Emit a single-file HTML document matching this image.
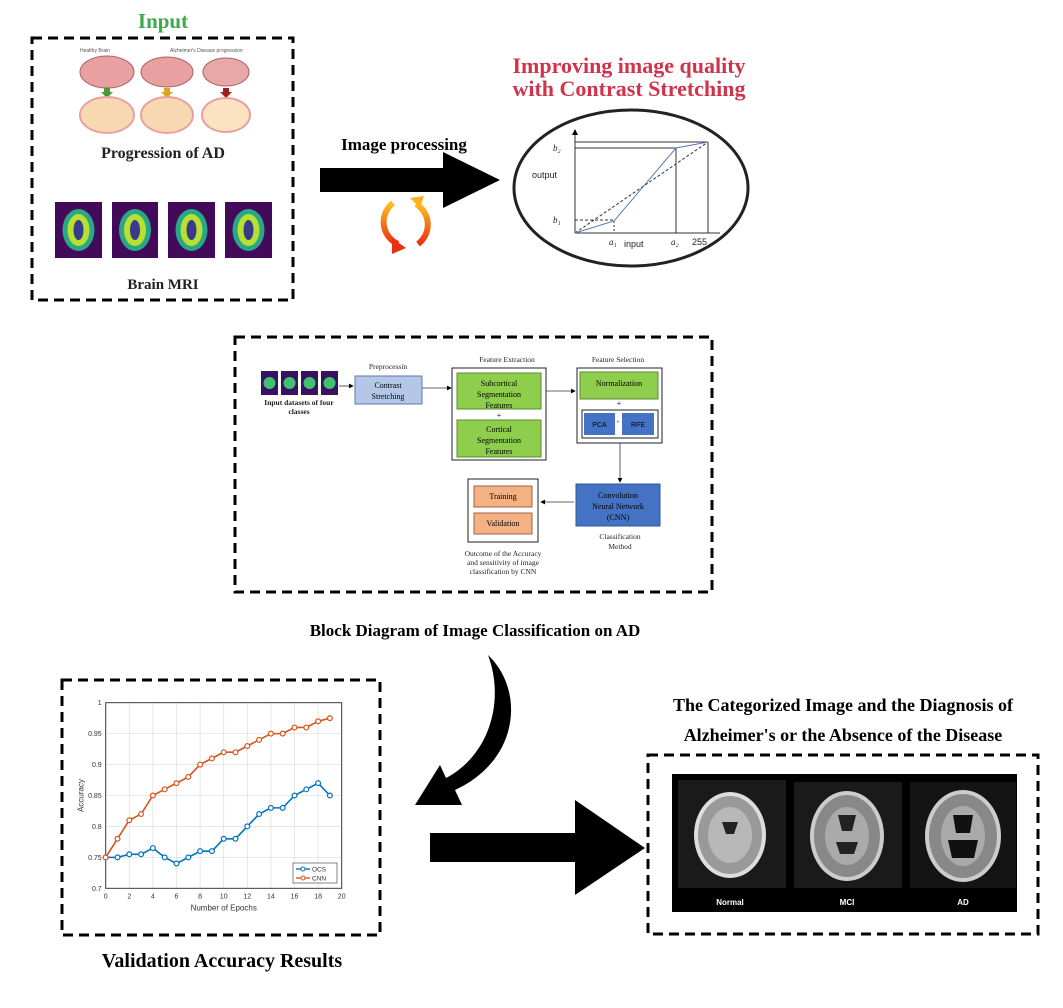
<!DOCTYPE html>
<html><head><meta charset="utf-8"><style>
body{margin:0;background:#fff;}
svg{display:block;font-family:"Liberation Serif",serif;}
</style></head><body>
<svg id="page" width="1063" height="1008" viewBox="0 0 1063 1008">
<defs>
<marker id="ah" markerWidth="6" markerHeight="6" refX="5" refY="3" orient="auto"><path d="M0,0L6,3L0,6z" fill="#000"/></marker>
<linearGradient id="og" x1="0" y1="0" x2="0" y2="1"><stop offset="0" stop-color="#ffc020"/><stop offset="1" stop-color="#e83010"/></linearGradient>
</defs>

<!-- Input section -->
<text x="163" y="28" text-anchor="middle" font-size="21" font-weight="bold" fill="#3aaa4a">Input</text>
<rect x="32" y="38" width="261" height="262" fill="none" stroke="#000" stroke-width="3" stroke-dasharray="10,6"/>
<g>
<text x="80" y="52" font-size="5" fill="#555" font-family="Liberation Sans">Healthy Brain</text>
<text x="170" y="52" font-size="5" fill="#555" font-family="Liberation Sans">Alzheimer's Disease progression</text>
<ellipse cx="107" cy="72" rx="27" ry="16" fill="#e8a0a0" stroke="#b06060"/>
<ellipse cx="167" cy="72" rx="26" ry="15" fill="#e8a0a0" stroke="#b06060"/>
<ellipse cx="226" cy="72" rx="23" ry="14" fill="#e8a8a8" stroke="#b06060"/>
<path d="M104,88h6v4h3l-6,6-6-6h3z" fill="#4a9a3a"/>
<path d="M164,88h6v4h3l-6,6-6-6h3z" fill="#e0a020"/>
<path d="M223,88h6v4h3l-6,6-6-6h3z" fill="#a02020"/>
<ellipse cx="107" cy="115" rx="27" ry="18" fill="#f8d8b0" stroke="#e8a0a0" stroke-width="2"/>
<ellipse cx="167" cy="115" rx="26" ry="18" fill="#f8d8b0" stroke="#e8a0a0" stroke-width="2"/>
<ellipse cx="226" cy="115" rx="24" ry="17" fill="#fbe2c0" stroke="#e8a0a0" stroke-width="2"/>
</g>
<text x="163" y="158" text-anchor="middle" font-size="16" font-weight="bold" fill="#222">Progression of AD</text>
<g>
<rect x="55" y="202" width="47" height="56" fill="#440a5a"/><ellipse cx="78.5" cy="230" rx="16" ry="21" fill="#28a888"/><ellipse cx="78.5" cy="230" rx="11" ry="16" fill="#b8e030"/><ellipse cx="78.5" cy="230" rx="5" ry="10" fill="#3a3a8a"/>
<rect x="112" y="202" width="46" height="56" fill="#440a5a"/><ellipse cx="135" cy="230" rx="16" ry="21" fill="#28a888"/><ellipse cx="135" cy="230" rx="11" ry="16" fill="#b8e030"/><ellipse cx="135" cy="230" rx="5" ry="10" fill="#3a3a8a"/>
<rect x="168" y="202" width="47" height="56" fill="#440a5a"/><ellipse cx="191.5" cy="230" rx="16" ry="21" fill="#28a888"/><ellipse cx="191.5" cy="230" rx="11" ry="16" fill="#b8e030"/><ellipse cx="191.5" cy="230" rx="5" ry="10" fill="#3a3a8a"/>
<rect x="225" y="202" width="47" height="56" fill="#440a5a"/><ellipse cx="248.5" cy="230" rx="16" ry="21" fill="#28a888"/><ellipse cx="248.5" cy="230" rx="11" ry="16" fill="#b8e030"/><ellipse cx="248.5" cy="230" rx="5" ry="10" fill="#3a3a8a"/>
</g>
<text x="163" y="289" text-anchor="middle" font-size="15" font-weight="bold" fill="#222">Brain MRI</text>

<!-- Image processing arrow -->
<text x="404" y="150" text-anchor="middle" font-size="17" font-weight="bold">Image processing</text>
<path d="M320,168H443V152L500,180L443,208V192H320z" fill="#000"/>
<g fill="none" stroke="url(#og)" stroke-width="6">
<path d="M393,203A24,24 0 0 0 398,244"/><path d="M418,244A24,24 0 0 0 416,204"/>
</g>
<path d="M392,238l14,10-14,6z" fill="#e83010"/><path d="M420,208l-10-10 14-2z" fill="#ffb020"/>

<!-- Contrast stretching -->
<text x="629" y="73" text-anchor="middle" font-size="22" font-weight="bold" fill="#d0344a">Improving image quality</text>
<text x="629" y="96" text-anchor="middle" font-size="22" font-weight="bold" fill="#d0344a">with Contrast Stretching</text>
<ellipse cx="631" cy="188" rx="117" ry="78" fill="#fff" stroke="#222" stroke-width="3"/>
<g stroke="#333" stroke-width="1" fill="none">
<line x1="575" y1="233" x2="575" y2="130" marker-end="url(#ah)"/>
<line x1="575" y1="233" x2="720" y2="233"/>
<line x1="575" y1="142" x2="708" y2="142"/>
<line x1="575" y1="148" x2="676" y2="148"/>
<line x1="676" y1="148" x2="676" y2="233"/>
<line x1="708" y1="142" x2="708" y2="233"/>
<line x1="575" y1="233" x2="708" y2="142" stroke-dasharray="3,2"/>
<line x1="575" y1="220" x2="614" y2="220" stroke-dasharray="3,2"/>
<line x1="614" y1="221" x2="614" y2="233" stroke-dasharray="2,2"/>
<polyline points="575,233 614,221 676,148 708,142" stroke="#5a7ab8"/>
</g>
<g font-size="9" fill="#222">
<text x="553" y="151" font-style="italic">b₂</text><text x="532" y="178" font-family="Liberation Sans">output</text>
<text x="553" y="223" font-style="italic">b₁</text><text x="609" y="245" font-style="italic">a₁</text>
<text x="624" y="247" font-family="Liberation Sans">input</text><text x="671" y="245" font-style="italic">a₂</text>
<text x="692" y="245" font-family="Liberation Sans">255</text>
</g>

<!-- Block diagram -->
<rect x="235" y="337" width="477" height="255" fill="none" stroke="#000" stroke-width="3" stroke-dasharray="10,6"/>
<g>
<rect x="261" y="371" width="17" height="24" fill="#3a1060"/><rect x="281" y="371" width="17" height="24" fill="#3a1060"/><rect x="301" y="371" width="17" height="24" fill="#3a1060"/><rect x="321" y="371" width="17" height="24" fill="#3a1060"/>
<circle cx="269.5" cy="383" r="6" fill="#40c070"/><circle cx="289.5" cy="383" r="6" fill="#40c070"/><circle cx="309.5" cy="383" r="6" fill="#40c070"/><circle cx="329.5" cy="383" r="6" fill="#40c070"/>
</g>
<g font-size="7.5" text-anchor="middle" fill="#222">
<text x="299" y="405" font-weight="bold">Input datasets of four</text><text x="299" y="414" font-weight="bold">classes</text>
<text x="388" y="369">Preprocessin</text>
<text x="507" y="362">Feature Extraction</text>
<text x="618" y="362">Feature Selection</text>
<text x="620" y="539">Classification</text><text x="620" y="549">Method</text>
<text x="503" y="556">Outcome of the Accuracy</text><text x="503" y="565">and sensitivity of image</text><text x="503" y="574">classification by CNN</text>
</g>
<g stroke="#333" stroke-width="0.8" marker-end="url(#ah)">
<line x1="339" y1="386" x2="353" y2="386"/><line x1="422" y1="388" x2="451" y2="388"/>
<line x1="546" y1="391" x2="575" y2="391"/><line x1="620" y1="443" x2="620" y2="482"/>
<line x1="574" y1="502" x2="541" y2="502"/>
</g>
<rect x="355" y="376" width="67" height="28" fill="#b4c7e7" stroke="#5b7ab0"/>
<text x="388" y="388" font-size="8" text-anchor="middle">Contrast</text><text x="388" y="399" font-size="8" text-anchor="middle">Stretching</text>
<rect x="452" y="368" width="94" height="92" fill="#fff" stroke="#222"/>
<rect x="457" y="373" width="84" height="36" fill="#8fcd4c" stroke="#5a8a30"/>
<text x="499" y="386" font-size="8" text-anchor="middle">Subcortical</text><text x="499" y="397" font-size="8" text-anchor="middle">Segmentation</text><text x="499" y="408" font-size="8" text-anchor="middle">Features</text>
<text x="499" y="418" font-size="8" text-anchor="middle">+</text>
<rect x="457" y="420" width="84" height="37" fill="#8fcd4c" stroke="#5a8a30"/>
<text x="499" y="432" font-size="8" text-anchor="middle">Cortical</text><text x="499" y="443" font-size="8" text-anchor="middle">Segmentation</text><text x="499" y="454" font-size="8" text-anchor="middle">Features</text>
<rect x="577" y="368" width="85" height="75" fill="#fff" stroke="#222"/>
<rect x="580" y="372" width="78" height="27" fill="#8fcd4c" stroke="#5a8a30"/>
<text x="619" y="386" font-size="8" text-anchor="middle">Normalization</text>
<text x="619" y="406" font-size="8" text-anchor="middle">+</text>
<rect x="582" y="410" width="76" height="28" fill="#fff" stroke="#222"/>
<rect x="584" y="413" width="31" height="22" fill="#4472c4"/><rect x="622" y="413" width="32" height="22" fill="#4472c4"/>
<text x="599.5" y="427" font-size="7" text-anchor="middle" font-family="Liberation Sans">PCA</text><text x="618" y="424" font-size="6" text-anchor="middle">+</text><text x="638" y="427" font-size="7" text-anchor="middle" font-family="Liberation Sans">RFE</text>
<rect x="576" y="484" width="84" height="42" fill="#4472c4" stroke="#2f5597"/>
<text x="618" y="498" font-size="8" text-anchor="middle">Convolution</text><text x="618" y="509" font-size="8" text-anchor="middle">Neural Network</text><text x="618" y="520" font-size="8" text-anchor="middle">(CNN)</text>
<rect x="468" y="479" width="70" height="63" fill="#fff" stroke="#222"/>
<rect x="474" y="486" width="58" height="21" fill="#f4b183" stroke="#a06040"/><rect x="474" y="513" width="58" height="21" fill="#f4b183" stroke="#a06040"/>
<text x="503" y="499" font-size="8" text-anchor="middle">Training</text><text x="503" y="526" font-size="8" text-anchor="middle">Validation</text>
<text x="475" y="636" text-anchor="middle" font-size="17" font-weight="bold">Block Diagram of Image Classification on AD</text>

<!-- Curved arrow -->
<path d="M488,655C525,690 520,760 455,790L462,805L415,805L440,765L446,778C490,755 505,700 488,655z" fill="#000"/>

<!-- Chart -->
<rect x="62" y="680" width="318" height="255" fill="none" stroke="#000" stroke-width="3" stroke-dasharray="10,6"/>
<g id="chart" font-family="Liberation Sans"></g>
<text x="222" y="967" text-anchor="middle" font-size="20" font-weight="bold">Validation Accuracy Results</text>

<!-- Second arrow -->
<path d="M430,833H575V800L645,848L575,895V862H430z" fill="#000"/>

<!-- Categorized -->
<text x="843" y="711" text-anchor="middle" font-size="18" font-weight="bold">The Categorized Image and the Diagnosis of</text>
<text x="843" y="741" text-anchor="middle" font-size="18" font-weight="bold">Alzheimer's or the Absence of the Disease</text>
<rect x="648" y="755" width="390" height="179" fill="none" stroke="#000" stroke-width="3" stroke-dasharray="10,6"/>
<rect x="672" y="774" width="345" height="138" fill="#000"/>
<rect x="678" y="780" width="108" height="108" fill="#1a1a1a"/><rect x="794" y="782" width="108" height="106" fill="#1a1a1a"/><rect x="910" y="782" width="106" height="106" fill="#141414"/>
<g><ellipse cx="730" cy="835" rx="36" ry="43" fill="#ddd"/><ellipse cx="730" cy="835" rx="32" ry="39" fill="#999"/><ellipse cx="730" cy="835" rx="22" ry="28" fill="#b8b8b8"/><path d="M722,822h16l-4,12h-8z" fill="#222"/></g>
<g><ellipse cx="847" cy="836" rx="37" ry="45" fill="#ccc"/><ellipse cx="847" cy="836" rx="33" ry="41" fill="#888"/><ellipse cx="847" cy="836" rx="22" ry="29" fill="#aaa"/><path d="M838,815h18l-4,16h-10z M836,842h22l-4,12h-14z" fill="#222"/></g>
<g><ellipse cx="963" cy="836" rx="38" ry="46" fill="#ccc"/><ellipse cx="963" cy="836" rx="34" ry="42" fill="#888"/><ellipse cx="963" cy="836" rx="22" ry="30" fill="#aaa"/><path d="M953,815h20l-3,18h-14z M948,840h30l-4,18h-22z" fill="#111"/></g>
<g font-family="Liberation Sans" font-size="8" font-weight="bold" fill="#fff" text-anchor="middle">
<text x="730" y="905">Normal</text><text x="847" y="905">MCI</text><text x="963" y="905">AD</text>
</g>
</svg>
<script>
const epochs = [0,1,2,3,4,5,6,7,8,9,10,11,12,13,14,15,16,17,18,19];
const ocsValues = [0.75,0.75,0.755,0.755,0.765,0.75,0.74,0.75,0.76,0.76,0.78,0.78,0.80,0.82,0.83,0.83,0.85,0.86,0.87,0.85];
const cnnValues = [0.75,0.78,0.81,0.82,0.85,0.86,0.87,0.88,0.90,0.91,0.92,0.92,0.93,0.94,0.95,0.95,0.96,0.96,0.97,0.975];
const xTicks = [0,2,4,6,8,10,12,14,16,18,20];
const yTicks = [0.7,0.75,0.8,0.85,0.9,0.95,1];
const yTickLabels = ["0.7","0.75","0.8","0.85","0.9","0.95","1"];
const NS='http://www.w3.org/2000/svg';
const g=document.getElementById('chart');
const X0=105.7,X1=341.7,Y0=888.3,Y1=702.7;
const sx=v=>X0+(v-0)/(20-0)*(X1-X0);
const sy=v=>Y0-(v-0.7)/(1-0.7)*(Y0-Y1);
function mk(tag,at){const e=document.createElementNS(NS,tag);for(const k in at)e.setAttribute(k,at[k]);g.appendChild(e);return e;}
let bg=mk('rect',{x:X0,y:Y1,width:X1-X0,height:Y0-Y1,fill:'#fff',stroke:'#333','stroke-width':0.8});


xTicks.forEach(t=>{const l=mk('line',{x1:sx(t),x2:sx(t),y1:Y1,y2:Y0,stroke:'#e2e2e2','stroke-width':0.8});


const tx=mk('text',{x:sx(t),y:Y0+10,'font-size':7,'text-anchor':'middle',fill:'#333'});tx.textContent=t;

});
yTicks.forEach((t,i)=>{const l=mk('line',{x1:X0,x2:X1,y1:sy(t),y2:sy(t),stroke:'#e2e2e2','stroke-width':0.8});


const tx=mk('text',{x:X0-4,y:sy(t)+2.5,'font-size':7,'text-anchor':'end',fill:'#333'});tx.textContent=yTickLabels[i];

});
mk('rect',{x:X0,y:Y1,width:X1-X0,height:Y0-Y1,fill:'none',stroke:'#333','stroke-width':0.8});
const xt=mk('text',{x:(X0+X1)/2,y:Y0+22,'font-size':8,'text-anchor':'middle',fill:'#333'});xt.textContent='Number of Epochs';


const yt=mk('text',{x:0,y:0,'font-size':8,'text-anchor':'middle',fill:'#333',transform:`translate(${X0-22},${(Y0+Y1)/2}) rotate(-90)`});yt.textContent='Accuracy';


function series(vals,color,name){
 const p=mk('polyline',{points:vals.map((v,i)=>sx(epochs[i])+','+sy(v)).join(' '),fill:'none',stroke:color,'stroke-width':1.6});
 
 
 vals.forEach((v,i)=>{const c=mk('circle',{cx:sx(epochs[i]),cy:sy(v),r:2.4,fill:'#fff',stroke:color,'stroke-width':1.2});
 
 });
}
series(ocsValues,'#0072bd','ocs');
series(cnnValues,'#d95319','cnn');
const lg=mk('rect',{x:293,y:863,width:44,height:20,fill:'#fff',stroke:'#333','stroke-width':0.6});


[['OCS','#0072bd',869],['CNN','#d95319',878]].forEach(([n,c,y])=>{
 mk('line',{x1:296,x2:310,y1:y,y2:y,stroke:c,'stroke-width':1.4});
 mk('circle',{cx:303,cy:y,r:2,fill:'#fff',stroke:c});
 const t=mk('text',{x:312,y:y+2.5,'font-size':6.5,fill:'#333'});t.textContent=n;
 
 
});
</script>
</body></html>
